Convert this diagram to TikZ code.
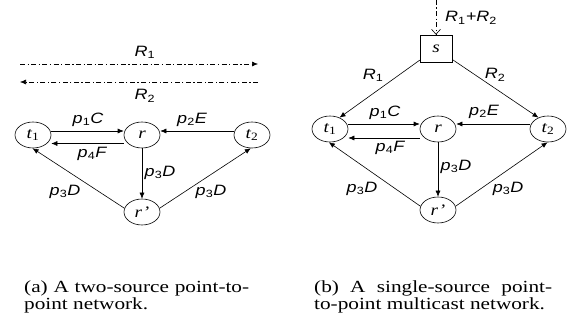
\documentclass[tikz,border=0pt]{standalone}
\usepackage{fontspec}
\setmainfont{Liberation Serif}
\newfontfamily\labf{Liberation Sans}[FakeStretch=1.2]
\newfontfamily\ndf{Liberation Serif}[FakeStretch=1.2]
\newfontfamily\capf{Liberation Serif}[FakeStretch=1.25]
\usetikzlibrary{arrows.meta,shapes.geometric}
\begin{document}
\begin{tikzpicture}[x=1pt,y=-1pt,
  nd/.style={draw, ellipse, line width=0.6pt, minimum width=36pt, minimum height=26pt, inner sep=0pt,
             font=\ndf\itshape\fontsize{16}{16}\selectfont},
  box/.style={draw, rectangle, line width=0.6pt, minimum width=32pt, minimum height=27pt, inner sep=0pt,
             font=\ndf\itshape\fontsize{16}{16}\selectfont},
  lb/.style={font=\labf\itshape\fontsize{15}{15}\selectfont, inner sep=0pt},
  ar/.style={-{Latex[length=6pt,width=5pt]}, line width=0.6pt},
  dd/.style={dash pattern=on 5pt off 2.5pt on 1.2pt off 2.5pt, line width=0.6pt},
  captext/.style={anchor=base west, inner sep=0pt, font=\capf\fontsize{17}{17.5}\selectfont}]
\useasboundingbox (0,0) rectangle (580,328);

% ---------- left panel ----------
\coordinate (r1a) at (20,64);
\coordinate (r1b) at (258,64);
\coordinate (r2a) at (258,82);
\coordinate (r2b) at (20,82);
\draw[dd,-{Latex[length=6pt,width=5pt]}] (r1a) -- (r1b);
\draw[dd,-{Latex[length=6pt,width=5pt]}] (r2a) -- (r2b);
\node[lb] (lR1) at (145,52) {R\textsubscript{\upshape 1}};
\node[lb] (lR2) at (145,96) {R\textsubscript{\upshape 2}};

\node[nd] (t1L) at (33,135) {t\textsubscript{\upshape 1}};
\node[nd] (rL)  at (142,135) {r};
\node[nd] (t2L) at (252,135) {t\textsubscript{\upshape 2}};
\node[nd] (rpL) at (142,212) {r’};

\draw[ar] ([yshift=4pt]t1L.east) -- ([yshift=4pt]rL.west);
\draw[ar] ([yshift=-8.5pt]rL.west) -- ([yshift=-8.5pt]t1L.east);
\draw[ar] ([yshift=4pt]t2L.west) -- ([yshift=4pt]rL.east);
\draw[ar] (rL) -- (rpL);
\draw[ar] (rpL.168) -- (t1L.-92);
\draw[ar] (rpL.12) -- (t2L.-95);

\node[lb] (lp1C) at (88,120) {p\textsubscript{\upshape 1}C};
\node[lb] (lp4F) at (92,154) {p\textsubscript{\upshape 4}F};
\node[lb] (lp2E) at (192,120) {p\textsubscript{\upshape 2}E};
\node[lb] (lp3a) at (160,173) {p\textsubscript{\upshape 3}D};
\node[lb] (lp3b) at (65,192) {p\textsubscript{\upshape 3}D};
\node[lb] (lp3c) at (211,192) {p\textsubscript{\upshape 3}D};

% ---------- right panel ----------
\coordinate (top) at (436,0);
\node[box] (s) at (436,48.5) {s};
\draw[dd,-{Straight Barb[length=5pt,width=9pt]}] (top) -- (s.north);
\node[lb] (lR12) at (471,18) {R\textsubscript{\upshape 1}+R\textsubscript{\upshape 2}};

\node[nd] (t1R) at (330,129) {t\textsubscript{\upshape 1}};
\node[nd] (rR)  at (438,129) {r};
\node[nd] (t2R) at (548,129) {t\textsubscript{\upshape 2}};
\node[nd] (rpR) at (438,210) {r’};

\draw[ar] (s) -- (t1R.50);
\draw[ar] (s) -- (t2R.130);
\draw[ar] ([yshift=5pt]t1R.east) -- ([yshift=5pt]rR.west);
\draw[ar] ([yshift=-9pt]rR.west) -- ([yshift=-9pt]t1R.east);
\draw[ar] ([yshift=5pt]t2R.west) -- ([yshift=5pt]rR.east);
\draw[ar] (rR) -- (rpR);
\draw[ar] (rpR.168) -- (t1R.-95);
\draw[ar] (rpR.12) -- (t2R.-92);

\node[lb] (rR1)  at (373,75) {R\textsubscript{\upshape 1}};
\node[lb] (rR2)  at (495,75) {R\textsubscript{\upshape 2}};
\node[lb] (rp1C) at (385,113) {p\textsubscript{\upshape 1}C};
\node[lb] (rp2E) at (484,112) {p\textsubscript{\upshape 2}E};
\node[lb] (rp4F) at (390,148) {p\textsubscript{\upshape 4}F};
\node[lb] (rp3a) at (456,167) {p\textsubscript{\upshape 3}D};
\node[lb] (rp3b) at (362,189) {p\textsubscript{\upshape 3}D};
\node[lb] (rp3c) at (508,189) {p\textsubscript{\upshape 3}D};

% ---------- captions ----------
\node[captext] (capa) at (24,292) {\parbox[t]{225pt}{(a) A two-source point-to-\linebreak point network.}};
\node[captext] (capb) at (314,292) {\parbox[t]{238pt}{(b) A single-source point-\linebreak to-point multicast network.}};
\end{tikzpicture}
\end{document}
